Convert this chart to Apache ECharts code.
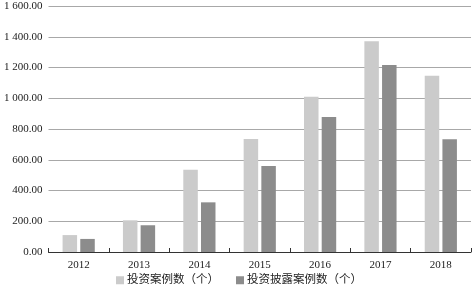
<!DOCTYPE html>
<html><head><meta charset="utf-8">
<script src="https://cdn.jsdelivr.net/npm/echarts@6/dist/echarts.min.js"></script>
<style>html,body{margin:0;padding:0;background:#fff}#c{width:472px;height:290px}</style>
</head><body><div id="c"></div>
<script>
var categories = ['2012','2013','2014','2015','2016','2017','2018'];
var caseCounts = [110, 206, 535, 735, 1010, 1370, 1147];
var disclosedCounts = [85, 174, 323, 559, 878, 1216, 733];
var seriesNames = ['投资案例数（个）', '投资披露案例数（个）'];
var yTicks = [0, 200, 400, 600, 800, 1000, 1200, 1400, 1600];

var serif = '"Liberation Serif", "Noto Sans CJK SC", serif';
var chart = echarts.init(document.getElementById('c'));
chart.setOption({
  animation: false,
  textStyle: {fontFamily: serif},
  grid: {left: 48.5, right: 1, top: 6, bottom: 38},
  legend: {
    bottom: -1, left: 111,
    itemWidth: 8, itemHeight: 8, itemGap: 17,
    icon: 'rect',
    textStyle: {fontFamily: serif, fontSize: 11.5, color: '#222', padding: [0,0,0,-2]},
    data: seriesNames
  },
  xAxis: {
    type: 'category', data: categories,
    axisLine: {lineStyle: {color: '#333', width: 1}},
    axisTick: {show: true, inside: true, length: 4, lineStyle: {color: '#333'}},
    axisLabel: {fontFamily: serif, fontSize: 11, color: '#222', margin: 8}
  },
  yAxis: {
    type: 'value', min: yTicks[0], max: yTicks[yTicks.length-1], interval: 200,
    axisLine: {show: false}, axisTick: {show: false},
    splitLine: {lineStyle: {color: '#a8a8a8', width: 1.2}},
    axisLabel: {
      fontFamily: serif, fontSize: 11, color: '#222', margin: 6,
      formatter: function (v) {
        var s = v.toFixed(2);
        var parts = s.split('.');
        var ip = parts[0];
        if (ip.length > 3) ip = ip.slice(0, ip.length-3) + ' ' + ip.slice(ip.length-3);
        return ip + '.' + parts[1];
      }
    }
  },
  series: [
    {name: seriesNames[0], type: 'bar', data: caseCounts, barWidth: 14.5, barGap: '22%',
     itemStyle: {color: '#cbcbcb'}},
    {name: seriesNames[1], type: 'bar', data: disclosedCounts, barWidth: 14.5,
     itemStyle: {color: '#8c8c8c'}}
  ]
});
</script></body></html>
